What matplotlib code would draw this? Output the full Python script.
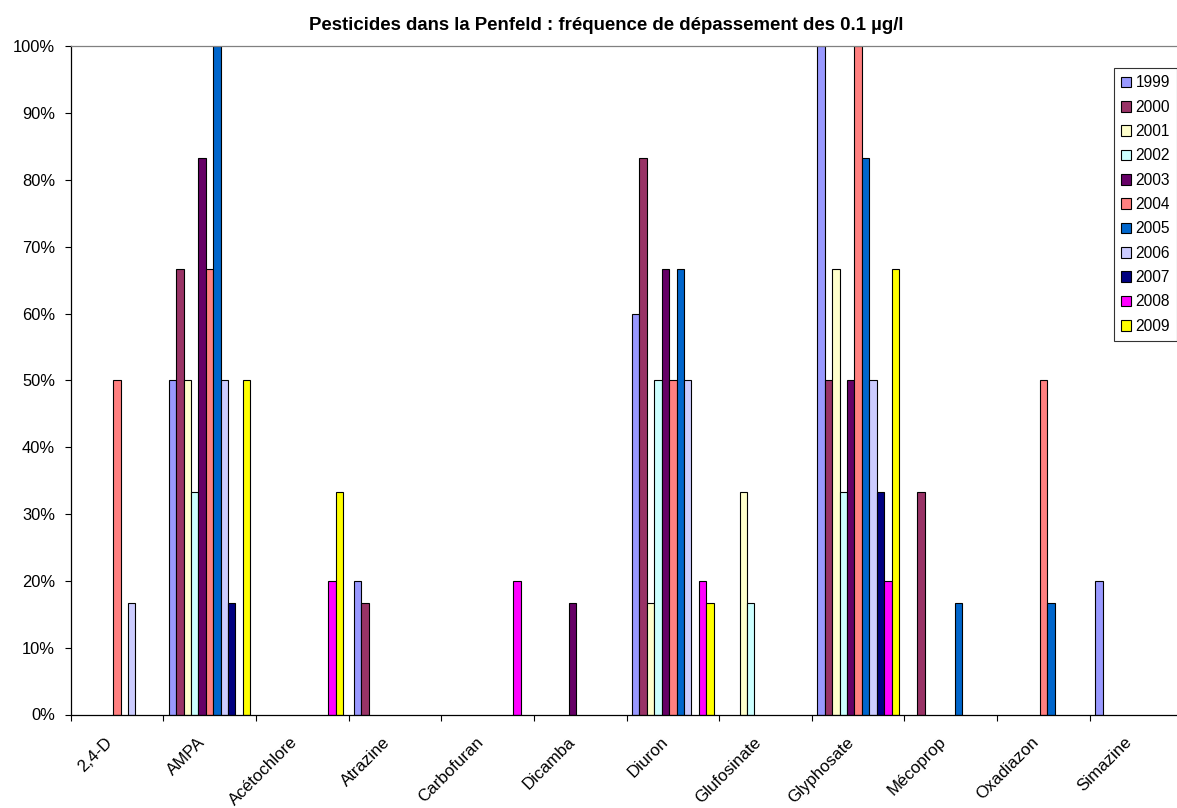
import matplotlib
matplotlib.use("Agg")
import matplotlib.pyplot as plt
import matplotlib.transforms as mtransforms
import numpy as np

plt.rcParams['font.family'] = ['Liberation Sans', 'DejaVu Sans']

pesticides = ["2,4-D", "AMPA", "Acétochlore", "Atrazine", "Carbofuran", "Dicamba",
              "Diuron", "Glufosinate", "Glyphosate", "Mécoprop", "Oxadiazon", "Simazine"]
years = [1999, 2000, 2001, 2002, 2003, 2004, 2005, 2006, 2007, 2008, 2009]
colors = ["#9999FF", "#993366", "#FFFFCC", "#CCFFFF", "#660066", "#FF8080",
          "#0066CC", "#CCCCFF", "#000080", "#FF00FF", "#FFFF00"]

# % of samples above 0.1 µg/l, one list per year, same order as pesticides
f1999 = [0, 50, 0, 20, 0, 0, 60, 0, 100, 0, 0, 20]
f2000 = [0, 66.7, 0, 16.7, 0, 0, 83.3, 0, 50, 33.3, 0, 0]
f2001 = [0, 50, 0, 0, 0, 0, 16.7, 33.3, 66.7, 0, 0, 0]
f2002 = [0, 33.3, 0, 0, 0, 0, 50, 16.7, 33.3, 0, 0, 0]
f2003 = [0, 83.3, 0, 0, 0, 16.7, 66.7, 0, 50, 0, 0, 0]
f2004 = [50, 66.7, 0, 0, 0, 0, 50, 0, 100, 0, 50, 0]
f2005 = [0, 100, 0, 0, 0, 0, 66.7, 0, 83.3, 16.7, 16.7, 0]
f2006 = [16.7, 50, 0, 0, 0, 0, 50, 0, 50, 0, 0, 0]
f2007 = [0, 16.7, 0, 0, 0, 0, 0, 0, 33.3, 0, 0, 0]
f2008 = [0, 0, 20, 0, 20, 0, 20, 0, 20, 0, 0, 0]
f2009 = [0, 50, 33.3, 0, 0, 0, 16.7, 0, 66.7, 0, 0, 0]
series = [f1999, f2000, f2001, f2002, f2003, f2004, f2005, f2006, f2007, f2008, f2009]

fig = plt.figure(figsize=(11.77, 8.08), dpi=100)
ax = fig.add_axes([70.5 / 1177, 1 - 714.5 / 808, 1112 / 1177, 668.2 / 808])

n = len(years)
bw = 1 / (n + 1.5)
x0 = np.arange(len(pesticides)) + 0.75 * bw
for j, (yr, vals, c) in enumerate(zip(years, series, colors)):
    vals = np.array(vals, dtype=float)
    vals[vals == 0] = np.nan
    ax.bar(x0 + j * bw, vals, width=bw, align="edge", color=c,
           edgecolor="black", linewidth=0.8, label=str(yr))

ax.set_xlim(0, len(pesticides))
ax.set_ylim(0, 100)
ax.set_yticks(np.arange(0, 101, 10))
ax.set_yticklabels([f"{v}%" for v in range(0, 101, 10)], fontsize=11.9)
ax.tick_params(axis="y", direction="out", length=4, width=0.8, pad=7)

# category boundaries get the tick marks, names sit at the centres
ax.set_xticks(np.arange(0, len(pesticides) + 1))
ax.set_xticklabels([])
ax.tick_params(axis="x", which="major", direction="out", length=4.5, width=0.8)
ax.set_xticks(np.arange(len(pesticides)) + 0.5, minor=True)
ax.set_xticklabels(pesticides, minor=True, rotation=45, ha="right", va="center",
                   rotation_mode="anchor", fontsize=12.2)
ax.tick_params(axis="x", which="minor", length=0, pad=16)
shift = mtransforms.ScaledTranslation(-7 / 100, -3 / 100, fig.dpi_scale_trans)
for lab in ax.get_xticklabels(minor=True):
    lab.set_transform(lab.get_transform() + shift)

ax.spines["right"].set_visible(False)
ax.spines["top"].set_color("#808080")
for s in ["left", "bottom", "top"]:
    ax.spines[s].set_linewidth(0.9)

fig.text(606.7 / 1177, 1 - 25 / 808,
         "Pesticides dans la Penfeld : fréquence de dépassement des 0.1 µg/l",
         ha="center", va="center", fontsize=13.4, fontweight="bold")

leg = fig.legend(loc="upper left", bbox_to_anchor=(1113.5 / 1177, 1 - 68.3 / 808),
                 fontsize=11.2, frameon=True, fancybox=False, borderpad=0.45,
                 labelspacing=0.6, handlelength=0.68, handleheight=0.68,
                 handletextpad=0.3, borderaxespad=0)
leg.get_frame().set_edgecolor("black")
leg.get_frame().set_linewidth(0.8)
for h in leg.legend_handles:
    h.set_linewidth(0.8)

fig.savefig("out.png", dpi=100)
